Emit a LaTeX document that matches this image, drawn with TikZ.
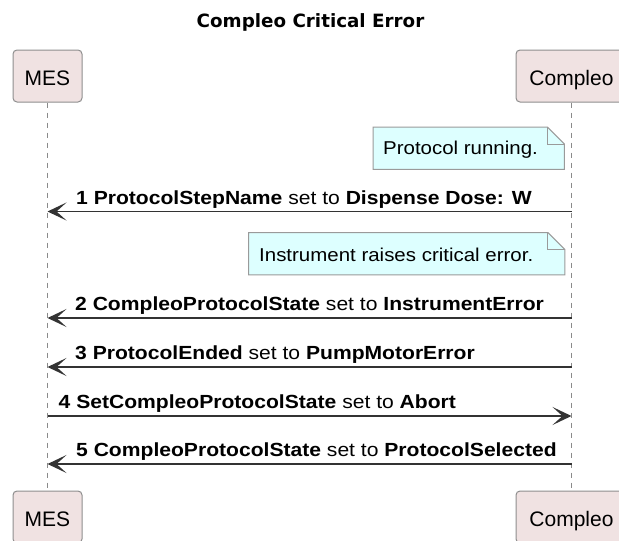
\documentclass[tikz,border=0pt]{standalone}
\usepackage{fontspec}
\setmainfont{Liberation Sans}
\newfontfamily\titlefont{DejaVu Sans}
\usetikzlibrary{arrows.meta,calc}
\definecolor{partfill}{HTML}{F0E2E2}
\definecolor{partdraw}{HTML}{8E8E8E}
\definecolor{notefill}{HTML}{DDFFFF}
\definecolor{notedraw}{HTML}{9A9A9A}
\definecolor{arrowcol}{HTML}{333333}
\definecolor{lifecol}{HTML}{8A8A8A}
\newcommand{\lbltxt}[1]{\scalebox{1.11}[1]{\fontsize{19}{22}\selectfont #1}}
\newcommand{\notetxt}[1]{\scalebox{1.1}[1]{\fontsize{18.6}{22}\selectfont #1}}
\begin{document}
\begin{tikzpicture}[x=1pt,y=-1pt,
  part/.style={draw=partdraw, fill=partfill, rounded corners=4pt, line width=1pt,
    minimum height=52pt, inner sep=0pt, text height=20pt, text depth=2pt,
    font=\fontsize{21}{24}\selectfont},
  life/.style={draw=lifecol, line width=1pt, dash pattern=on 5pt off 5pt},
  notebox/.style={minimum height=42pt, inner sep=0pt, anchor=north west},
  noteshape/.style={draw=notedraw, fill=notefill, line width=1pt, line join=miter},
  notefold/.style={draw=notedraw, line width=1pt},
  notetext/.style={anchor=west, inner sep=0pt},
  msg/.style={draw=arrowcol, line width=1.6pt,
    -{Stealth[length=19pt,width=18pt,inset=10pt]}},
  lbl/.style={anchor=base west, inner sep=0pt}
]
\useasboundingbox (0,0) rectangle (619,541);
\clip (0,0) rectangle (619,541);

% title
\node[anchor=base, inner sep=0pt] (title) at (310.5,27.5)
  {\titlefont\bfseries\fontsize{18.3}{21}\selectfont Compleo Critical Error};

% participants
\node[part, minimum width=69pt] (mesT) at (47.5,76) {MES};
\node[part, minimum width=111pt] (compT) at (571.5,76) {Compleo};
\node[part, minimum width=69pt] (mesB) at (47.5,517) {MES};
\node[part, minimum width=111pt] (compB) at (571.5,517) {Compleo};

% lifelines
\draw[life] (mesT.south) -- (mesB.north);
\draw[life] (compT.south) -- (compB.north);

% note 1
\node[notebox, minimum width=191pt] (n1) at (373,127) {};
\path[noteshape] (n1.north west) -- ($(n1.north east)+(-17,0)$) -- ($(n1.north east)+(0,17)$)
  -- (n1.south east) -- (n1.south west) -- cycle;
\path[notefold] ($(n1.north east)+(-17,0)$) -- ($(n1.north east)+(-17,17)$) -- ($(n1.north east)+(0,17)$);
\node[notetext] (n1t) at ($(n1.west)+(10,1)$) {\notetxt{Protocol running.}};

% note 2
\node[notebox, minimum width=316pt] (n2) at (248.5,232.5) {};
\path[noteshape] (n2.north west) -- ($(n2.north east)+(-17,0)$) -- ($(n2.north east)+(0,17)$)
  -- (n2.south east) -- (n2.south west) -- cycle;
\path[notefold] ($(n2.north east)+(-17,0)$) -- ($(n2.north east)+(-17,17)$) -- ($(n2.north east)+(0,17)$);
\node[notetext] (n2t) at ($(n2.west)+(10.5,1)$) {\notetxt{Instrument raises critical error.}};

% message end points on lifelines
\coordinate (a1L) at (47.5,211.5); \coordinate (a1R) at (571.5,211.5);
\coordinate (a2L) at (47.5,318);   \coordinate (a2R) at (571.5,318);
\coordinate (a3L) at (47.5,367);   \coordinate (a3R) at (571.5,367);
\coordinate (a4L) at (47.5,416);   \coordinate (a4R) at (571.5,416);
\coordinate (a5L) at (47.5,464);   \coordinate (a5R) at (571.5,464);

% messages
\draw[msg] (a1R) -- (a1L);
\node[lbl] (l1) at (76,204) {\lbltxt{\textbf{1 ProtocolStepName} set to \textbf{Dispense Dose: W}}};
\draw[msg] (a2R) -- (a2L);
\node[lbl] (l2) at (75,310.5) {\lbltxt{\textbf{2 CompleoProtocolState} set to \textbf{InstrumentError}}};
\draw[msg] (a3R) -- (a3L);
\node[lbl] (l3) at (75,359.5) {\lbltxt{\textbf{3 ProtocolEnded} set to \textbf{PumpMotorError}}};
\draw[msg] (a4L) -- (a4R);
\node[lbl] (l4) at (58.5,408.5) {\lbltxt{\textbf{4 SetCompleoProtocolState} set to \textbf{Abort}}};
\draw[msg] (a5R) -- (a5L);
\node[lbl] (l5) at (76,456.5) {\lbltxt{\textbf{5 CompleoProtocolState} set to \textbf{ProtocolSelected}}};
\end{tikzpicture}
\end{document}
